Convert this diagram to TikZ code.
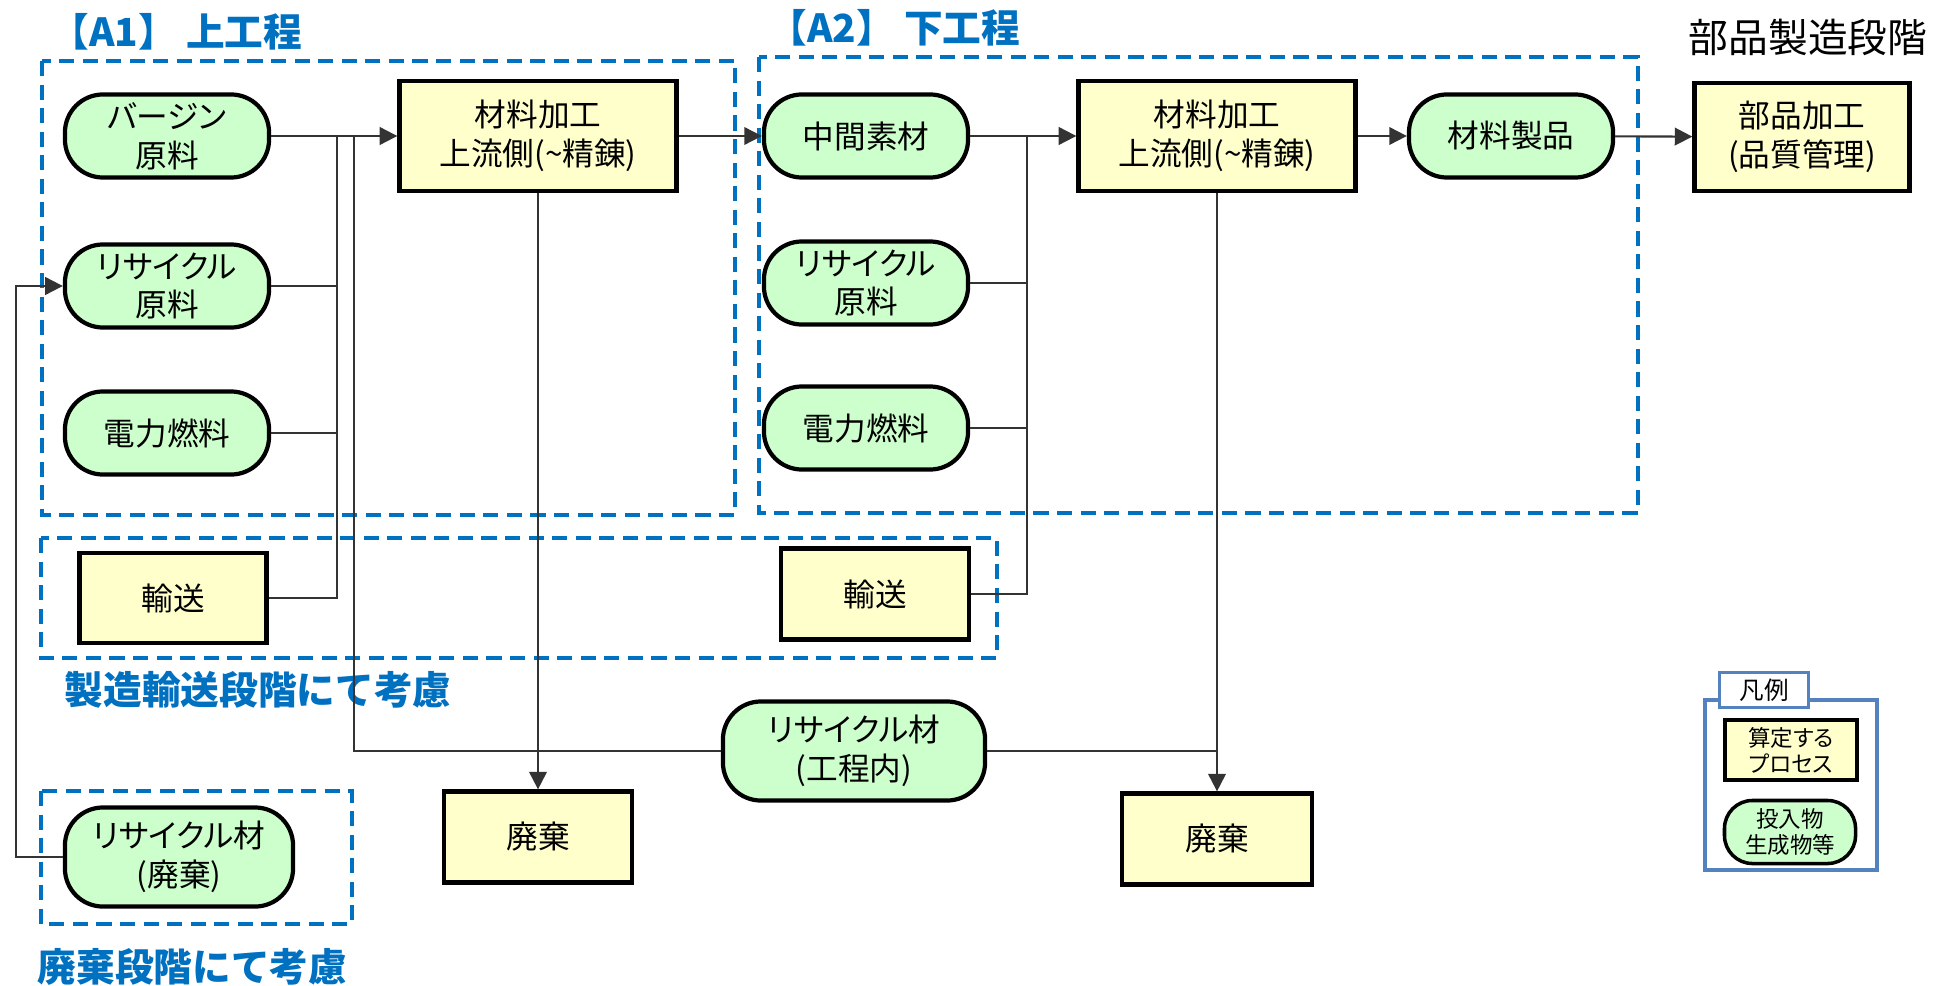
\documentclass[tikz,border=0pt]{standalone}
\usepackage{fontspec}
\setmainfont{Noto Sans CJK JP}[RawFeature=+palt]
\newfontfamily\titelfont{Noto Sans CJK JP}
\usetikzlibrary{arrows.meta}

\definecolor{gelb}{RGB}{255,255,204}
\definecolor{gruen}{RGB}{204,255,204}
\definecolor{blau}{RGB}{0,112,192}
\definecolor{rahmen}{RGB}{84,130,190}

\tikzset{
    prozess/.style={draw, line width=1.2pt, fill=gelb, inner sep=0pt, align=center,
        minimum width=2.77cm, minimum height=1.1cm, font=\fontsize{9}{11}\selectfont},
    stoff/.style={draw, line width=1.2pt, fill=gruen, inner sep=0pt, align=center,
        rounded corners=0.38cm, minimum width=2.04cm, minimum height=0.83cm,
        font=\fontsize{9}{11}\selectfont},
    gruppe/.style={draw=blau, line width=1.3pt, dash pattern=on 4.3pt off 2.4pt},
    linie/.style={draw=black!80, line width=0.6pt},
    pfeil/.style={linie, -{Triangle[length=5pt,width=5pt]}},
    titel/.style={text=blau, inner sep=0pt, font=\titelfont\fontsize{11}{13}\selectfont\bfseries},
}

\begin{document}
\begin{tikzpicture}[x=0.01cm, y=-0.01cm]
            \useasboundingbox (0,0) rectangle (1943,985);

            % Gruppenrahmen
            \draw[gruppe] (42,61) rectangle (735,515);
            \draw[gruppe] (759,57) rectangle (1638,513);
            \draw[gruppe] (41,538) rectangle (997,658);
            \draw[gruppe] (41,791) rectangle (352,924);

            % Überschriften
            \node[titel, anchor=west] (tA1) at (50,32) {【A1】 上工程};
            \node[titel, anchor=west] (tA2) at (768,28) {【A2】 下工程};
            \node[titel, anchor=west] (tTrans) at (64,690) {製造輸送段階にて考慮};
            \node[titel, anchor=west] (tAbfall) at (37,967) {廃棄段階にて考慮};
            \node[anchor=east, inner sep=0pt, font=\fontsize{11.3}{13}\selectfont] (tTeil) at (1928,37) {部品製造段階};

            % A1: Eingänge und Prozess
            \node[stoff] (virgin) at (167,136) {バージン\\原料};
            \node[stoff] (recyA1) at (167,286) {リサイクル\\原料};
            \node[stoff] (energieA1) at (167,433) {電力燃料};
            \node[prozess] (procA1) at (538,136) {材料加工\\上流側(\textasciitilde{}精錬)};
            \node[prozess, minimum width=1.87cm, minimum height=0.90cm] (transA1) at (173,598) {輸送};
            \node[prozess, minimum width=1.88cm, minimum height=0.91cm] (wasteA1) at (538,837) {廃棄};

            % A2: Eingänge und Prozess
            \node[stoff] (mid) at (866,136) {中間素材};
            \node[stoff] (recyA2) at (866,283) {リサイクル\\原料};
            \node[stoff] (energieA2) at (866,428) {電力燃料};
            \node[prozess] (procA2) at (1217,136) {材料加工\\上流側(\textasciitilde{}精錬)};
            \node[prozess, minimum width=1.88cm, minimum height=0.91cm] (transA2) at (875,594) {輸送};
            \node[prozess, minimum width=1.90cm, minimum height=0.91cm] (wasteA2) at (1217,839) {廃棄};
            \node[stoff] (product) at (1511,136) {材料製品};
            \node[prozess, minimum width=2.15cm, minimum height=1.08cm] (part) at (1802,137) {部品加工\\(品質管理)};

            % Recycling
            \node[stoff, minimum width=2.62cm, minimum height=0.99cm] (recyIn) at (854,751) {リサイクル材\\(工程内)};
            \node[stoff, minimum width=2.28cm, minimum height=0.99cm] (recyWaste) at (179,857) {リサイクル材\\(廃棄)};

            % Knotenpunkte
            \coordinate (jA1) at (337,136);
            \coordinate (jIn) at (354,136);
            \coordinate (jA2) at (1027,136);
            \coordinate (rueck) at (16,857);

            % Verbindungen
            \draw[pfeil] (virgin) -- (procA1);
            \foreach \n in {recyA1,energieA1,transA1}
                \draw[linie] (\n.east) -| (jA1);
            \draw[linie] (recyIn.west) -| (jIn);
            \draw[pfeil] (procA1) -- (wasteA1);
            \draw[pfeil] (procA1) -- (mid);
            \draw[pfeil] (mid) -- (procA2);
            \foreach \n in {recyA2,energieA2,transA2}
                \draw[linie] (\n.east) -| (jA2);
            \draw[pfeil] (procA2) -- (wasteA2);
            \draw[linie] (recyIn.east) -- (recyIn.east -| procA2.south);
            \draw[pfeil] (procA2) -- (product);
            \draw[pfeil] (product) -- (part);
            \draw[pfeil] (recyWaste.west) -- (rueck) |- (recyA1.west);

            % Legende
            \draw[rahmen, line width=0.9pt] (1705,700) rectangle (1877,870);
            \node[draw=rahmen, fill=white, line width=0.9pt, inner sep=0pt,
                minimum width=0.89cm, minimum height=0.35cm,
                font=\fontsize{7}{8}\selectfont] (legTitel) at (1764,690) {凡例};
            \node[prozess, line width=1pt, minimum width=1.32cm, minimum height=0.60cm,
                font=\fontsize{6.4}{7.4}\selectfont] (legProzess) at (1791,750) {算定する\\プロセス};
            \node[stoff, line width=1pt, rounded corners=0.28cm, minimum width=1.31cm,
                minimum height=0.63cm, font=\fontsize{6.4}{7.4}\selectfont] (legStoff) at (1790,832) {投入物\\生成物等};
        \end{tikzpicture}
\end{document}
